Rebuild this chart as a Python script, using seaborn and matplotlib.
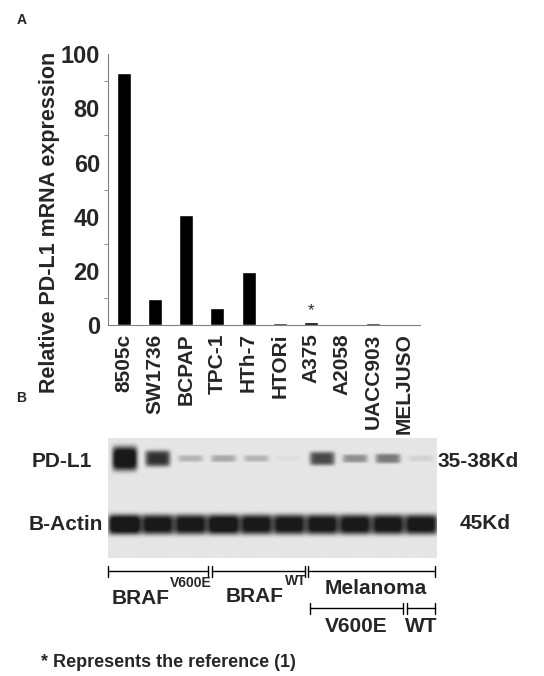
import numpy as np
import pandas as pd
import matplotlib
matplotlib.use("Agg")
import matplotlib.pyplot as plt
import seaborn as sns

cell_lines = ["8505c", "SW1736", "BCPAP", "TPC-1", "HTh-7", "HTORi", "A375", "A2058", "UACC903", "MELJUSO"]
expression = [93, 9.5, 40.5, 6.3, 19.5, 0.8, 1.0, 0.4, 0.8, 0.3]
yticks = [0, 20, 40, 60, 80, 100]
pdl1_band = [1.0, 0.75, 0.2, 0.25, 0.2, 0.03, 0.65, 0.35, 0.45, 0.08]
actin_band = [1.0, 0.9, 0.9, 0.95, 0.9, 0.9, 0.9, 0.9, 0.9, 0.9]

sns.set_style("white")
plt.rcParams['font.family'] = ['Liberation Sans', 'DejaVu Sans']
fig = plt.figure(figsize=(5.44, 6.76), dpi=100)

ax = fig.add_axes([0.199, 0.519, 0.573, 0.401])
df = pd.DataFrame({"line": cell_lines, "val": expression})
sns.barplot(data=df, x="line", y="val", color="black", width=0.45, ax=ax, saturation=1)
ax.set_ylim(0, 100)
ax.set_yticks(yticks)
ax.set_yticks(range(0, 101, 10), minor=True)
ax.tick_params(axis='y', which='minor', length=3, color='gray', left=True)
ax.tick_params(axis='y', which='major', length=0, labelsize=17, pad=6)
ax.set_yticklabels([str(t) for t in yticks], fontweight='bold')
ax.set_xticks(range(len(cell_lines)))
ax.set_xticklabels(cell_lines, rotation=90, fontsize=15, fontweight='bold')
ax.tick_params(axis='x', length=0, pad=6)
ax.set_xlabel("")
ax.set_ylabel("Relative PD-L1 mRNA expression", fontsize=15.5, fontweight='bold', labelpad=8)
ax.yaxis.set_label_coords(-0.155, 0.38)
for s in ["top", "right"]:
    ax.spines[s].set_visible(False)
ax.spines["left"].set_color("gray")
ax.spines["bottom"].set_color("gray")
ax.text(6, 2.5, "*", ha='center', va='bottom', fontsize=12)

fig.text(0.03, 0.965, "A", fontsize=10, fontweight='bold')
fig.text(0.03, 0.405, "B", fontsize=10, fontweight='bold')

# blot
bx = fig.add_axes([0.199, 0.175, 0.604, 0.177])
W, H = 400, 120
xs = np.arange(W)
ys = np.arange(H)[:, None]
img = np.full((H, W), 0.9)
lw = W / 10
for i in range(10):
    cx = (i + 0.5) * lw
    prof = np.exp(-((xs - cx) / (lw * 0.38)) ** 6)
    img -= 0.95 * pdl1_band[i] * prof * np.exp(-((ys - 20) / (3 + 9 * pdl1_band[i] ** 2)) ** 4)
    img -= 0.95 * actin_band[i] * np.exp(-((xs - cx) / (lw * 0.5)) ** 8) * np.exp(-((ys - 86) / 10) ** 4)
bx.imshow(np.clip(img, 0.1, 1), cmap='gray', vmin=0, vmax=1, aspect='auto', interpolation='bilinear')
bx.set_axis_off()

fs = 15
fig.text(0.058, 0.317, "PD-L1", fontsize=fs, fontweight='bold', va='center')
fig.text(0.052, 0.224, "B-Actin", fontsize=fs, fontweight='bold', va='center')
fig.text(0.805, 0.318, "35-38Kd", fontsize=fs, fontweight='bold', va='center')
fig.text(0.845, 0.226, "45Kd", fontsize=fs, fontweight='bold', va='center')

def bracket(x0, x1, y):
    fig.add_artist(plt.Line2D([x0, x1], [y, y], color='black', lw=1))
    for xx in (x0, x1):
        fig.add_artist(plt.Line2D([xx, xx], [y - 0.008, y + 0.008], color='black', lw=1))

bracket(0.199, 0.382, 0.155)
bracket(0.389, 0.560, 0.155)
bracket(0.567, 0.799, 0.155)
bracket(0.570, 0.741, 0.100)
bracket(0.748, 0.799, 0.100)
fig.text(0.205, 0.115, "BRAF", fontsize=fs, fontweight='bold', va='center')
fig.text(0.313, 0.138, "V600E", fontsize=10, fontweight='bold', va='center')
fig.text(0.415, 0.118, "BRAF", fontsize=fs, fontweight='bold', va='center')
fig.text(0.523, 0.141, "WT", fontsize=10, fontweight='bold', va='center')
fig.text(0.69, 0.130, "Melanoma", fontsize=fs, fontweight='bold', va='center', ha='center')
fig.text(0.655, 0.073, "V600E", fontsize=fs, fontweight='bold', va='center', ha='center')
fig.text(0.775, 0.073, "WT", fontsize=fs, fontweight='bold', va='center', ha='center')
fig.text(0.075, 0.020, "* Represents the reference (1)", fontsize=13, fontweight='bold', va='center')

fig.savefig("out.png", dpi=100)
